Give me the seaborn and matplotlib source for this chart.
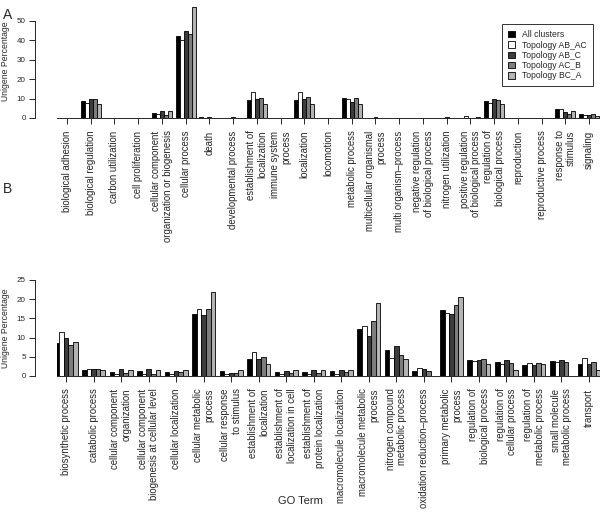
import pandas as pd
import numpy as np

import matplotlib
matplotlib.use('Agg')
import matplotlib.pyplot as plt
import seaborn as sns

series_names = ['All clusters', 'Topology AB_AC', 'Topology AB_C',
                'Topology AC_B', 'Topology BC_A']
colores = ['#000000', '#ffffff', '#3c3c3c', '#7d7d7d', '#b4b4b4']

# Panel A: GO level 2 terms
terms_a = ['biological adhesion', 'biological regulation', 'carbon utilization',
           'cell proliferation', 'cellular component\norganization or biogenesis',
           'cellular process', 'death', 'developmental process',
           'establishment of\nlocalization', 'immune system\nprocess',
           'localization', 'locomotion', 'metabolic process',
           'multicellular organismal\nprocess', 'multi organism\u2013process',
           'negative regulation\nof biological process', 'nitrogen utilization',
           'positive regulation\nof biological process',
           'regulation of\nbiological process', 'reproduction',
           'reproductive process', 'response to\nstimulus', 'signaling']
all_a  = [0.0, 8.9, 0.0, 0.0, 2.7, 42.3, 0.3, 0.0, 9.3, 0.0, 9.3, 0.0, 10.5,
          0.2, 0.0, 0.1, 0.0, 0.1, 8.8, 0.0, 0.0, 4.5, 2.1]
abac_a = [0.0, 7.6, 0.0, 0.0, 1.9, 40.0, 0.0, 0.0, 13.2, 0.0, 13.3, 0.0, 9.8,
          0.1, 0.0, 0.0, 0.0, 1.0, 7.6, 0.0, 0.0, 4.6, 1.4]
abc_a  = [0.0, 9.8, 0.0, 0.0, 3.8, 44.5, 0.3, 0.3, 9.8, 0.0, 9.8, 0.0, 8.1,
          0.4, 0.0, 0.2, 0.4, 0.2, 9.5, 0.0, 0.0, 3.1, 1.4]
acb_a  = [0.0, 9.8, 0.0, 0.0, 1.5, 43.3, 0.1, 0.0, 10.5, 0.0, 11.0, 0.0, 10.5,
          0.1, 0.0, 0.1, 0.0, 0.2, 9.3, 0.0, 0.0, 2.1, 1.9]
bca_a  = [0.0, 7.2, 0.0, 0.0, 3.6, 57.0, 0.0, 0.0, 7.2, 0.0, 7.0, 0.0, 7.0,
          0.0, 0.0, 0.0, 0.0, 0.6, 7.0, 0.0, 0.0, 3.6, 1.0]

# Panel B: GO level 3 terms
terms_b = ['biosynthetic process', 'catabolic process',
           'cellular component\norganization',
           'cellular component\nbiogenesis at cellular level',
           'cellular localization', 'cellular metabolic\nprocess',
           'cellular response\nto stimulus', 'establishment of\nlocalization',
           'establishment of\nlocalization in cell',
           'establishment of\nprotein localization',
           'macromolecule localization', 'macromolecule metabolic\nprocess',
           'nitrogen compound\nmetabolic process',
           'oxidation reduction\u2013process', 'primary metabolic\nprocess',
           'regulation of\nbiological process', 'regulation of\ncellular process',
           'regulation of\nmetabolic process',
           'small molecule\nmetabolic process', 'transport']
all_b  = [8.6, 1.5, 1.0, 1.2, 1.1, 16.1, 1.2, 4.3, 1.1, 1.1, 1.4, 12.2, 6.9,
          1.3, 17.3, 4.1, 3.6, 2.9, 3.8, 3.0]
abac_b = [11.5, 1.7, 0.4, 0.4, 0.5, 17.4, 0.4, 6.3, 0.4, 0.4, 0.4, 13.1, 4.6,
          2.2, 16.4, 3.9, 3.0, 3.4, 3.6, 4.6]
abc_b  = [10.0, 1.7, 1.7, 1.7, 1.2, 15.9, 0.7, 4.3, 1.2, 1.5, 1.5, 10.3, 7.9,
          1.8, 16.1, 4.2, 4.1, 2.9, 4.1, 3.2]
acb_b  = [8.2, 1.7, 0.7, 0.4, 1.1, 17.5, 0.7, 5.0, 0.7, 0.7, 1.0, 14.2, 5.5,
          1.3, 18.5, 4.3, 3.5, 3.3, 3.6, 3.6]
bca_b  = [8.9, 1.6, 1.5, 1.5, 1.5, 21.9, 1.5, 3.0, 1.5, 1.5, 1.5, 18.9, 4.3,
          0.0, 20.5, 3.0, 1.6, 3.0, 0.0, 1.6]


def armar_tabla(terminos, valores):
    filas = []
    for nombre, serie in zip(series_names, valores):
        for termino, v in zip(terminos, serie):
            filas.append({'term': termino, 'series': nombre, 'pct': v})
    return pd.DataFrame(filas)


def graficar_panel(ax, df, terminos, ymax, yticks, xlim, leyenda):
    sns.barplot(data=df, x='term', y='pct', hue='series', order=terminos,
                hue_order=series_names, palette=colores, width=5 / 6, gap=0,
                edgecolor='black', linewidth=0.6, errorbar=None, ax=ax,
                legend=leyenda)
    ax.set_xlim(*xlim)
    ax.set_ylim(0, ymax)
    ax.set_yticks(yticks)
    ax.set_xlabel('')
    ax.set_ylabel('Unigene Percentage', fontsize=6.2, labelpad=5)
    ax.set_xticks(range(len(terminos)))
    ax.set_xticklabels(terminos, rotation=90, ha='center', va='top',
                       multialignment='right', fontsize=6.9)
    ax.tick_params(axis='x', length=4.5, width=0.7, pad=4.5)
    ax.tick_params(axis='y', length=4.5, width=0.7, labelsize=5.8, pad=2)
    ax.spines['top'].set_visible(False)
    ax.spines['right'].set_visible(False)
    ax.spines['left'].set_position(('outward', 16))
    ax.spines['left'].set_bounds(yticks[0], yticks[-1])
    ax.spines['left'].set_linewidth(0.7)
    ax.spines['bottom'].set_linewidth(0.7)


sns.set_style('ticks')
plt.rcParams['font.family'] = ['Liberation Sans', 'DejaVu Sans']

fig = plt.figure(figsize=(6, 5.12), dpi=100)
ax_a = fig.add_axes([57 / 600, 394 / 512, 543 / 600, 113 / 512])
ax_b = fig.add_axes([57 / 600, 136 / 512, 543 / 600, 96 / 512])

df_a = armar_tabla(terms_a, [all_a, abac_a, abc_a, acb_a, bca_a])
df_b = armar_tabla(terms_b, [all_b, abac_b, abc_b, acb_b, bca_b])

graficar_panel(ax_a, df_a, terms_a, 58, [0, 10, 20, 30, 40, 50],
               (-0.42, 22.46), True)
graficar_panel(ax_b, df_b, terms_b, 25, [0, 5, 10, 15, 20, 25],
               (-0.33, 19.4), False)

leg = ax_a.legend(loc='upper right', bbox_to_anchor=(0.987, 0.83),
                  fontsize=6.2, frameon=True, fancybox=False,
                  handlelength=0.75, handleheight=0.75, handletextpad=0.9,
                  labelspacing=0.15, borderpad=0.7, borderaxespad=0)
leg.get_frame().set_edgecolor('black')
leg.get_frame().set_linewidth(0.7)

fig.text(0.005, 0.985, 'A', fontsize=10, va='top', ha='left')
fig.text(0.005, 0.645, 'B', fontsize=10, va='top', ha='left')
fig.text(0.5, 0.012, 'GO Term', fontsize=8, ha='center', va='bottom')

fig.savefig('out.png', dpi=100)
